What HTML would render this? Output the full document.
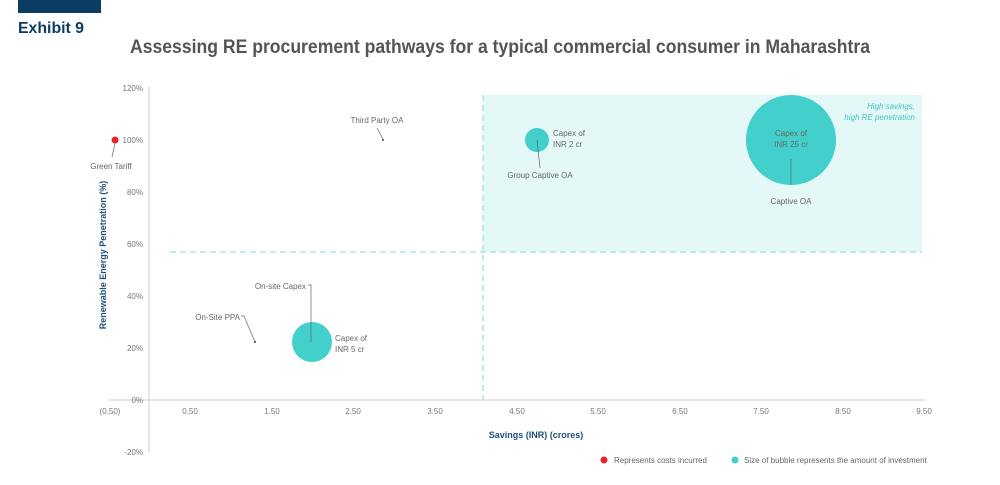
<!DOCTYPE html>
<html><head><style>
body{margin:0;background:#fff;width:1000px;height:480px;overflow:hidden;font-family:"Liberation Sans",sans-serif}
</style></head><body>
<svg width="1000" height="480" xmlns="http://www.w3.org/2000/svg" font-family="Liberation Sans, sans-serif">
<rect x="18" y="0" width="83" height="13" fill="#0b3d63"/>
<text x="18" y="33" font-size="16" font-weight="bold" fill="#0b3d63" textLength="66" lengthAdjust="spacingAndGlyphs">Exhibit 9</text>
<text x="130" y="53" font-size="19" font-weight="bold" fill="#555" textLength="740" lengthAdjust="spacingAndGlyphs">Assessing RE procurement pathways for a typical commercial consumer in Maharashtra</text>
<rect x="483" y="95" width="439" height="157" fill="#e4f8f8"/>
<line x1="483" y1="95" x2="483" y2="400" stroke="#a8e6e6" stroke-width="1.5" stroke-dasharray="6,4"/>
<line x1="170" y1="252" x2="922" y2="252" stroke="#a8e6e6" stroke-width="1.5" stroke-dasharray="6,4"/>
<line x1="149" y1="87" x2="149" y2="452" stroke="#ccc"/>
<line x1="108" y1="400" x2="925" y2="400" stroke="#ccc"/>
<g font-size="8" fill="#777" text-anchor="end">
<text x="143" y="91">120%</text><text x="143" y="143">100%</text><text x="143" y="195">80%</text><text x="143" y="247">60%</text><text x="143" y="299">40%</text><text x="143" y="351">20%</text><text x="143" y="403">0%</text><text x="143" y="455">-20%</text>
</g>
<g font-size="8" fill="#777" text-anchor="middle">
<text x="110" y="414">(0.50)</text><text x="190" y="414">0.50</text><text x="272" y="414">1.50</text><text x="353" y="414">2.50</text><text x="435" y="414">3.50</text><text x="517" y="414">4.50</text><text x="598" y="414">5.50</text><text x="680" y="414">6.50</text><text x="761" y="414">7.50</text><text x="843" y="414">8.50</text><text x="924" y="414">9.50</text>
</g>
<text x="536" y="438" font-size="9" font-weight="bold" fill="#1c4f7a" text-anchor="middle">Savings (INR) (crores)</text>
<text transform="translate(106,255) rotate(-90)" font-size="9" font-weight="bold" fill="#1c4f7a" text-anchor="middle">Renewable Energy Penetration (%)</text>
<circle cx="791" cy="140" r="45" fill="#43cfcb"/>
<circle cx="537" cy="140" r="12" fill="#43cfcb"/>
<circle cx="312" cy="342" r="20" fill="#43cfcb"/>
<circle cx="115" cy="140" r="3.5" fill="#e8232b"/>
<g stroke="#666" stroke-width="0.7" fill="none">
<line x1="115" y1="143" x2="112" y2="157"/>
<line x1="537" y1="140" x2="540" y2="168"/>
<line x1="791" y1="159" x2="791" y2="185"/>
<polyline points="308,285 311,285 311,342"/>
<polyline points="241,316 244,316 255,342"/>
<line x1="377" y1="128" x2="383" y2="139"/>
</g>
<circle cx="383" cy="140" r="1" fill="#444"/>
<circle cx="255" cy="342" r="1" fill="#444"/>
<g font-size="8" fill="#666">
<text x="111" y="169" text-anchor="middle">Green Tariff</text>
<text x="377" y="123" text-anchor="middle">Third Party OA</text>
<text x="553" y="136">Capex of</text><text x="553" y="147">INR 2 cr</text>
<text x="540" y="178" text-anchor="middle">Group Captive OA</text>
<text x="791" y="136" text-anchor="middle">Capex of</text><text x="791" y="147" text-anchor="middle">INR 25 cr</text>
<text x="791" y="204" text-anchor="middle">Captive OA</text>
<text x="306" y="289" text-anchor="end">On-site Capex</text>
<text x="240" y="320" text-anchor="end">On-Site PPA</text>
<text x="335" y="341">Capex of</text><text x="335" y="352">INR 5 cr</text>
</g>
<g font-size="8" fill="#43c4c0" font-style="italic" text-anchor="end">
<text x="915" y="109">High savings,</text><text x="915" y="120">high RE penetration</text>
</g>
<circle cx="604" cy="460" r="3.5" fill="#e8232b"/>
<text x="614" y="463" font-size="8" fill="#666">Represents  costs incurred</text>
<circle cx="735" cy="460" r="3.5" fill="#43cfcb"/>
<text x="744" y="463" font-size="8" fill="#666">Size of bubble represents the amount of investment</text>
</svg>
</body></html>
